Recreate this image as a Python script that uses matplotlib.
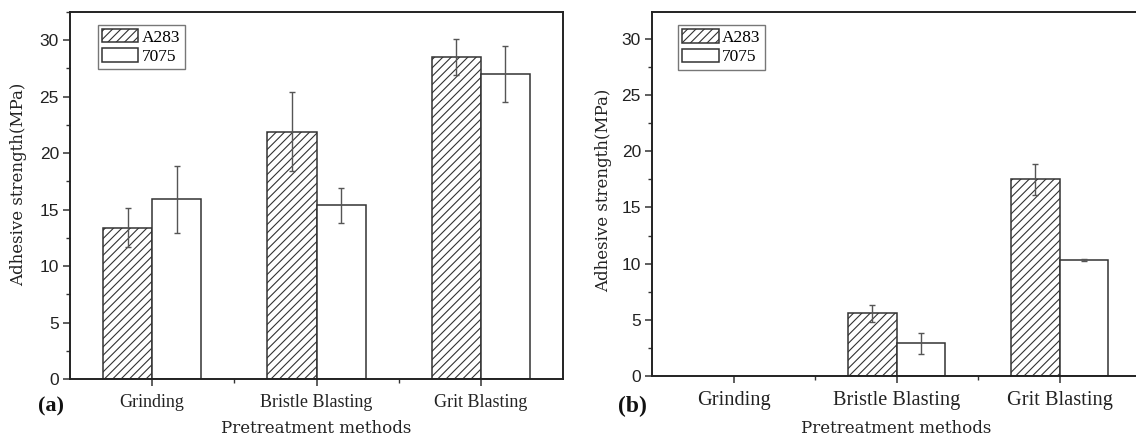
import numpy as np
import matplotlib
matplotlib.use("Agg")
import matplotlib.pyplot as plt
from matplotlib.ticker import MultipleLocator, FixedLocator

categories = ["Grinding", "Bristle Blasting", "Grit Blasting"]
series_names = ["A283", "7075"]

a_A283 = [13.4, 21.9, 28.5]
a_A283_err = [1.7, 3.5, 1.6]
a_7075 = [15.9, 15.4, 27.0]
a_7075_err = [3.0, 1.55, 2.5]

b_A283 = [0.0, 5.6, 17.5]
b_A283_err = [0.0, 0.75, 1.35]
b_7075 = [0.0, 2.9, 10.3]
b_7075_err = [0.0, 0.93, 0.1]

W, H = 1136, 440
fig = plt.figure(figsize=(W / 100, H / 100), dpi=100)
plt.rcParams['hatch.linewidth'] = 0.8
plt.rcParams['hatch.color'] = '#333333'

def px_axes(l, r, t, b):
    return fig.add_axes([l / W, 1 - b / H, (r - l) / W, (b - t) / H])

def draw(ax, v1, e1, v2, e2, ylim, xfs, panel, legxy, ylab_xy, xlab_y):
    x = np.arange(len(categories))
    bw = 0.3
    v1 = np.array(v1); v2 = np.array(v2)
    e1 = np.array(e1); e2 = np.array(e2)
    m1 = v1 > 0
    m2 = v2 > 0
    ax.bar(x[m1] - bw / 2, v1[m1], bw, facecolor='white', edgecolor='#333333',
           hatch='////', linewidth=1.1, label=series_names[0], zorder=2)
    ax.bar(x[m2] + bw / 2, v2[m2], bw, facecolor='white', edgecolor='#333333',
           linewidth=1.1, label=series_names[1], zorder=2)
    ax.errorbar(x[m1] - bw / 2, v1[m1], yerr=e1[m1], fmt='none', ecolor='#555555',
                elinewidth=1.0, capsize=2.5, capthick=1.0, zorder=3)
    ax.errorbar(x[m2] + bw / 2, v2[m2], yerr=e2[m2], fmt='none', ecolor='#555555',
                elinewidth=1.0, capsize=2.5, capthick=1.0, zorder=3)
    ax.set_xlim(-0.5, 2.5)
    ax.set_ylim(*ylim)
    ax.set_xticks(x)
    ax.set_xticklabels(categories, fontfamily='Liberation Serif', fontsize=xfs, color='#222222')
    ax.xaxis.set_minor_locator(FixedLocator([0.5, 1.5]))
    ax.yaxis.set_major_locator(MultipleLocator(5))
    ax.yaxis.set_minor_locator(MultipleLocator(2.5))
    for lab in ax.get_yticklabels():
        lab.set_fontfamily('Liberation Sans')
        lab.set_fontsize(12.5)
        lab.set_color('#222222')
    ax.tick_params(axis='both', which='major', direction='out', length=5, width=1.1, color='#333333')
    ax.tick_params(axis='both', which='minor', direction='out', length=3, width=1.0, color='#333333')
    ax.tick_params(axis='x', which='major', pad=6)
    ax.tick_params(axis='y', which='major', pad=3)
    for s in ax.spines.values():
        s.set_linewidth(1.4)
        s.set_color('#222222')
    ax.set_ylabel("Adhesive strength(MPa)", fontfamily='DejaVu Serif', fontsize=12, color='#222222')
    ax.yaxis.set_label_coords(*ylab_xy)
    ax.set_xlabel("Pretreatment methods", fontfamily='DejaVu Serif', fontsize=12, color='#222222')
    ax.xaxis.set_label_coords(0.5, xlab_y)
    leg = ax.legend(loc='upper left', bbox_to_anchor=legxy, borderaxespad=0,
                    prop={'family': 'Liberation Serif', 'size': 12.5},
                    frameon=True, fancybox=False, handlelength=2.1, handleheight=0.8,
                    handletextpad=0.2, borderpad=0.25, labelspacing=0.15)
    leg.get_frame().set_edgecolor('#555555')
    leg.get_frame().set_linewidth(1.0)
    return ax

ax1 = px_axes(70, 563, 12, 379)
draw(ax1, a_A283, a_A283_err, a_7075, a_7075_err, (0, 32.5), 13,
     '(a)', (0.056, 0.965), (-0.087, 0.53), -0.112)
ax2 = px_axes(652, 1141, 12, 376)
draw(ax2, b_A283, b_A283_err, b_7075, b_7075_err, (0, 32.4), 14.7,
     '(b)', (0.053, 0.964), (-0.082, 0.51), -0.121)

fig.text(38 / W, 1 - 406 / H, "(a)", fontfamily='Liberation Serif', fontweight='bold',
         fontsize=16, va='center', ha='left', color='#111111')
fig.text(618 / W, 1 - 406 / H, "(b)", fontfamily='Liberation Serif', fontweight='bold',
         fontsize=17, va='center', ha='left', color='#111111')

fig.savefig("out.png", dpi=100)
